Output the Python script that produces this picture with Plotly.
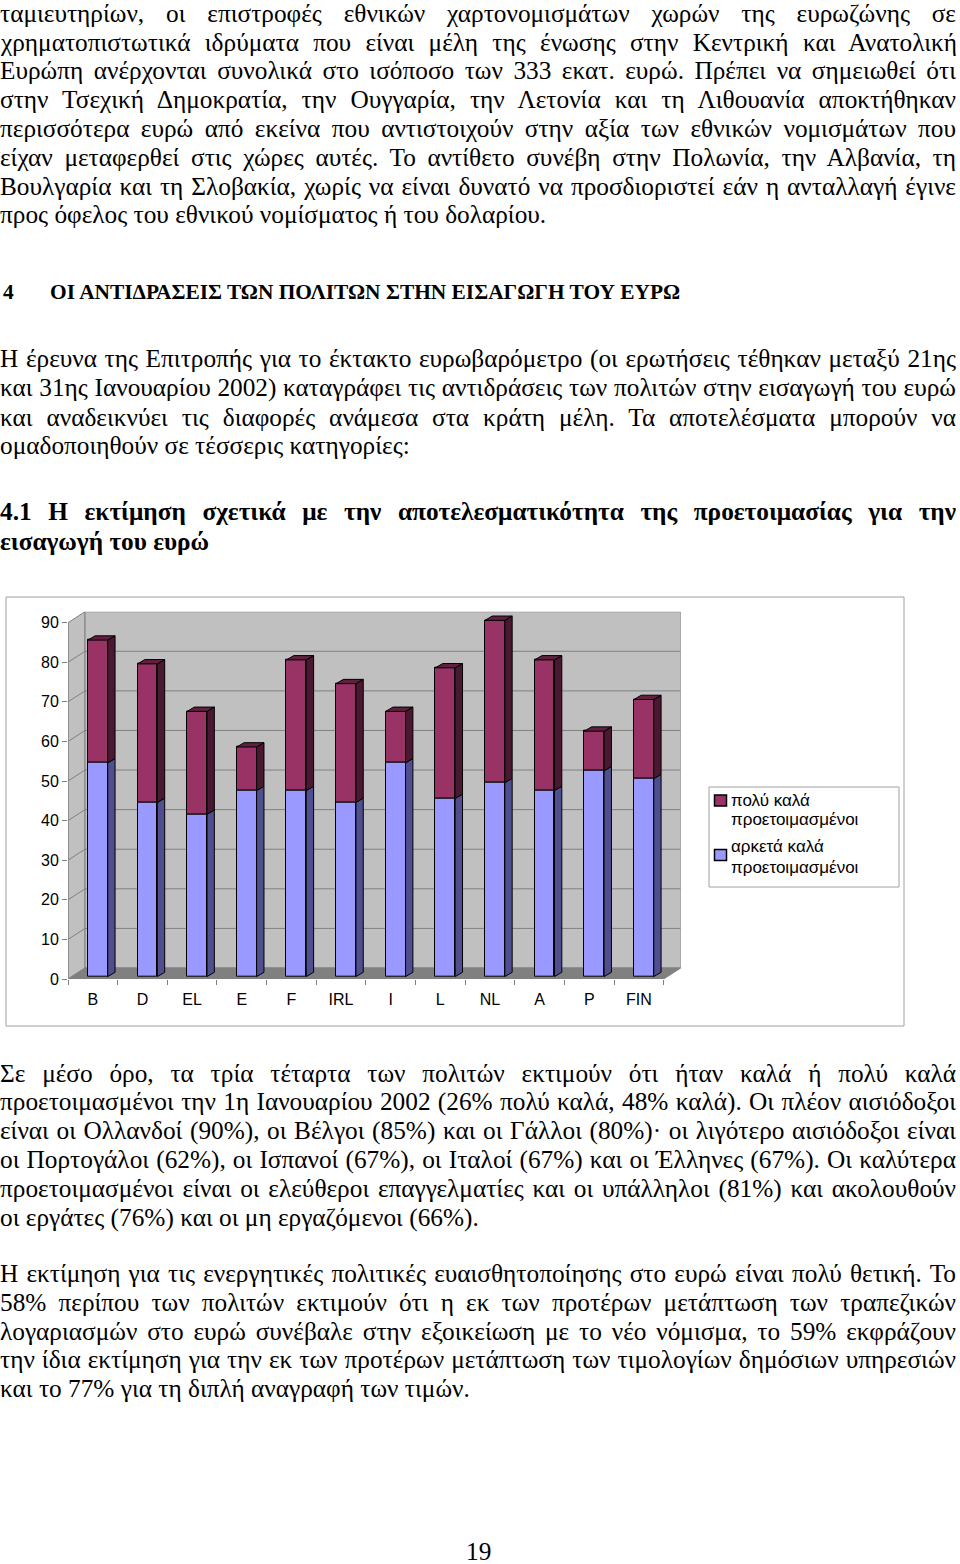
import json

import plotly.graph_objects as go

# ---- chart data (percent of citizens) ----
countries = ["B", "D", "EL", "E", "F", "IRL", "I", "L", "NL", "A", "P", "FIN"]
fairly_well = [54, 44, 41, 47, 47, 44, 54, 45, 49, 47, 52, 50]   # αρκετά καλά προετοιμασμένοι
very_well = [31, 35, 26, 11, 33, 30, 13, 33, 41, 33, 10, 20]     # πολύ καλά προετοιμασμένοι
y_ticks = list(range(0, 100, 10))
series_names = [["πολύ καλά", "προετοιμασμένοι"], ["αρκετά καλά", "προετοιμασμένοι"]]

# ---- page text ----
para1 = [
    "ταμιευτηρίων, οι επιστροφές εθνικών χαρτονομισμάτων χωρών της ευρωζώνης σε",
    "χρηματοπιστωτικά ιδρύματα που είναι μέλη της ένωσης στην Κεντρική και Ανατολική",
    "Ευρώπη ανέρχονται συνολικά στο ισόποσο των 333 εκατ. ευρώ. Πρέπει να σημειωθεί ότι",
    "στην Τσεχική Δημοκρατία, την Ουγγαρία, την Λετονία και τη Λιθουανία αποκτήθηκαν",
    "περισσότερα ευρώ από εκείνα που αντιστοιχούν στην αξία των εθνικών νομισμάτων που",
    "είχαν μεταφερθεί στις χώρες αυτές. Το αντίθετο συνέβη στην Πολωνία, την Αλβανία, τη",
    "Βουλγαρία και τη Σλοβακία, χωρίς να είναι δυνατό να προσδιοριστεί εάν η ανταλλαγή έγινε",
    "προς όφελος του εθνικού νομίσματος ή του δολαρίου.",
]
heading_num = "4"
heading = "ΟΙ ΑΝΤΙΔΡΑΣΕΙΣ ΤΩΝ ΠΟΛΙΤΩΝ ΣΤΗΝ ΕΙΣΑΓΩΓΗ ΤΟΥ ΕΥΡΩ"
para2 = [
    "Η έρευνα της Επιτροπής για το έκτακτο ευρωβαρόμετρο (οι ερωτήσεις τέθηκαν μεταξύ 21ης",
    "και 31ης Ιανουαρίου 2002) καταγράφει τις αντιδράσεις των πολιτών στην εισαγωγή του ευρώ",
    "και αναδεικνύει τις διαφορές ανάμεσα στα κράτη μέλη. Τα αποτελέσματα μπορούν να",
    "ομαδοποιηθούν σε τέσσερις κατηγορίες:",
]
subheading = [
    "4.1 Η εκτίμηση σχετικά με την αποτελεσματικότητα της προετοιμασίας για την",
    "εισαγωγή του ευρώ",
]
para3 = [
    "Σε μέσο όρο, τα τρία τέταρτα των πολιτών εκτιμούν ότι ήταν καλά ή πολύ καλά",
    "προετοιμασμένοι την 1η Ιανουαρίου 2002 (26% πολύ καλά, 48% καλά). Οι πλέον αισιόδοξοι",
    "είναι οι Ολλανδοί (90%), οι Βέλγοι (85%) και οι Γάλλοι (80%)· οι λιγότερο αισιόδοξοι είναι",
    "οι Πορτογάλοι (62%), οι Ισπανοί (67%), οι Ιταλοί (67%) και οι Έλληνες (67%). Οι καλύτερα",
    "προετοιμασμένοι είναι οι ελεύθεροι επαγγελματίες και οι υπάλληλοι (81%) και ακολουθούν",
    "οι εργάτες (76%) και οι μη εργαζόμενοι (66%).",
]
para4 = [
    "Η εκτίμηση για τις ενεργητικές πολιτικές ευαισθητοποίησης στο ευρώ είναι πολύ θετική. Το",
    "58% περίπου των πολιτών εκτιμούν ότι η εκ των προτέρων μετάπτωση των τραπεζικών",
    "λογαριασμών στο ευρώ συνέβαλε στην εξοικείωση με το νέο νόμισμα, το 59% εκφράζουν",
    "την ίδια εκτίμηση για την εκ των προτέρων μετάπτωση των τιμολογίων δημόσιων υπηρεσιών",
    "και το 77% για τη διπλή αναγραφή των τιμών.",
]
page_number = "19"

W, H = 960, 1564
SY = 1564 / 1555  # vertical correction measured against the rendered page
SERIF = "Liberation Serif, Times New Roman, serif"
SANS = "Liberation Sans, Arial, sans-serif"
BODY_SIZE = 25.3

LAVENDER, LAVENDER_SIDE = "#9999FF", "#4F4F8F"
MAROON, MAROON_SIDE, MAROON_TOP = "#993366", "#4A1830", "#62203F"
WALL, FLOOR, GRID = "#C0C0C0", "#808080", "#808080"

# 3-D look (in data units)
WALL_DX, WALL_DY = 0.343, 2.78
BAR_DX, BAR_DY, BAR_W = 0.1, 0.6, 0.40
SIDE_DX, SIDE_DY = 0.148, 1.09


def fy(y_px):
    """Pixel row from the top of the page -> paper y."""
    return 1 - y_px * SY / H


fig = go.Figure()

n = len(countries)
xs = [i + BAR_DX for i in range(n)]
tops_low = [BAR_DY + f for f in fairly_well]
tops_high = [BAR_DY + f + v for f, v in zip(fairly_well, very_well)]

fig.add_trace(go.Bar(
    x=xs, y=very_well, base=tops_low, width=BAR_W, name=" ".join(series_names[0]),
    marker=dict(color=MAROON, line=dict(color="black", width=1)), hoverinfo="skip",
))
fig.add_trace(go.Bar(
    x=xs, y=fairly_well, base=BAR_DY, width=BAR_W, name=" ".join(series_names[1]),
    marker=dict(color=LAVENDER, line=dict(color="black", width=1)), hoverinfo="skip",
))


def side_faces(bottoms, tops):
    px, py = [], []
    for x, b, t in zip(xs, bottoms, tops):
        xr = x + BAR_W / 2
        px += [xr, xr + SIDE_DX, xr + SIDE_DX, xr, xr, None]
        py += [b, b + SIDE_DY, t + SIDE_DY, t, b, None]
    return px, py


def top_faces(tops):
    px, py = [], []
    for x, t in zip(xs, tops):
        xl, xr = x - BAR_W / 2, x + BAR_W / 2
        px += [xl, xl + SIDE_DX, xr + SIDE_DX, xr, xl, None]
        py += [t, t + SIDE_DY, t + SIDE_DY, t, t, None]
    return px, py


for (bx, by), color in [
    (side_faces([BAR_DY] * n, tops_low), LAVENDER_SIDE),
    (side_faces(tops_low, tops_high), MAROON_SIDE),
    (top_faces(tops_high), MAROON_TOP),
]:
    fig.add_trace(go.Scatter(
        x=bx, y=by, mode="lines", fill="toself", fillcolor=color,
        line=dict(color="black", width=1), showlegend=False, hoverinfo="skip",
    ))

# walls, floor and gridlines
x_lo, x_hi = -0.5, n - 0.5
y_max = y_ticks[-1]
shapes = [
    dict(type="path", layer="below", fillcolor=WALL, line=dict(color=GRID, width=1),
         path=f"M {x_lo},0 L {x_lo},{y_max} L {x_lo + WALL_DX},{y_max + WALL_DY} "
              f"L {x_lo + WALL_DX},{WALL_DY} Z"),
    dict(type="rect", layer="below", fillcolor=WALL, line=dict(color=GRID, width=1),
         x0=x_lo + WALL_DX, x1=x_hi + WALL_DX, y0=WALL_DY, y1=y_max + WALL_DY),
    dict(type="path", layer="below", fillcolor=FLOOR, line=dict(color=FLOOR, width=1),
         path=f"M {x_lo},0 L {x_hi},0 L {x_hi + WALL_DX},{WALL_DY} L {x_lo + WALL_DX},{WALL_DY} Z"),
]
for v in y_ticks[1:-1]:
    shapes.append(dict(type="line", layer="below", line=dict(color=GRID, width=1),
                       x0=x_lo + WALL_DX, x1=x_hi + WALL_DX, y0=v + WALL_DY, y1=v + WALL_DY))
    shapes.append(dict(type="line", layer="below", line=dict(color=GRID, width=1),
                       x0=x_lo, x1=x_lo + WALL_DX, y0=v, y1=v + WALL_DY))
shapes.append(dict(type="line", line=dict(color=GRID, width=1),
                   x0=x_lo, x1=x_lo, y0=0, y1=y_max))


def paper_rect(x0, y0, x1, y1, **kw):
    return dict(type="rect", xref="paper", yref="paper",
                x0=x0 / W, x1=x1 / W, y0=fy(y1), y1=fy(y0), **kw)


# chart frame and legend box
shapes.append(paper_rect(6, 597, 904, 1026, line=dict(color="#A0A0A0", width=1)))
shapes.append(paper_rect(709, 787, 899, 887, line=dict(color="#A0A0A0", width=1)))

annotations = []
justify = {}


def add_text(text, x_px, y_px, size, family, bold=False, xanchor="left", height=None):
    annotations.append(dict(
        text=f"<b>{text}</b>" if bold else text, x=x_px / W, y=fy(y_px),
        xref="paper", yref="paper", xanchor=xanchor, yanchor="middle", align="left",
        showarrow=False, borderpad=0, borderwidth=0, height=height,
        font=dict(family=family, size=size, color="black"),
    ))


# legend entries: swatch + two text lines
for (first, second), color, swatch_y, text_y in [
    (series_names[0], MAROON, 800.5, 800),
    (series_names[1], LAVENDER, 855, 847),
]:
    shapes.append(paper_rect(714.5, swatch_y - 5.5, 726.5, swatch_y + 5.5,
                             fillcolor=color, line=dict(color="black", width=1.5)))
    add_text(first, 731, text_y, 17, SANS)
    add_text(second, 731, text_y + 20, 17, SANS)


def add_line(text, x_px, y_px, size=BODY_SIZE, bold=False, just=False):
    if just:
        justify[str(len(annotations))] = 956 - x_px
    add_text(text, x_px, y_px, size, SERIF, bold=bold)


def add_paragraph(lines, y0, step=28.8):
    for k, line in enumerate(lines):
        add_line(line, 0, y0 + k * step, just=k < len(lines) - 1)


add_paragraph(para1, 12.7)
add_line(heading_num, 3, 292, size=21.4, bold=True)
add_line(heading, 50, 292, size=21.4, bold=True)
add_paragraph(para2, 359)
add_line(subheading[0], 0, 511, bold=True, just=True)
add_line(subheading[1], 0, 541, bold=True)
add_paragraph(para3, 1073)
add_paragraph(para4, 1273)
# page number sits on the bottom edge: a tight box keeps it inside the page
add_text(page_number, 478, 1551, BODY_SIZE, SERIF, xanchor="center", height=20)

fig.update_layout(
    width=W, height=H, margin=dict(l=0, r=0, t=0, b=0),
    paper_bgcolor="white", plot_bgcolor="rgba(0,0,0,0)",
    barmode="overlay", bargap=0, showlegend=False,
    shapes=shapes, annotations=annotations,
    xaxis=dict(
        domain=[68 / W, 680.7 / W], range=[x_lo, x_hi + WALL_DX],
        tickmode="array", tickvals=list(range(n)), ticktext=countries,
        ticks="outside", ticklen=6, tickcolor="rgba(0,0,0,0)",
        minor=dict(tickmode="array", tickvals=[k - 0.5 for k in range(n + 1)],
                   ticks="outside", ticklen=5, tickcolor=GRID),
        showgrid=False, zeroline=False, showline=False,
        tickfont=dict(family=SANS, size=16, color="black"),
    ),
    yaxis=dict(
        domain=[fy(979), fy(611.7)], range=[0, y_max + WALL_DY],
        tickmode="array", tickvals=y_ticks, ticks="outside", ticklen=5, tickcolor=GRID,
        showgrid=False, zeroline=False, showline=False,
        tickfont=dict(family=SANS, size=16, color="black"),
    ),
)

# page without body margin or stray line box; justified lines get stretched word spacing
PAGE_JS = """
document.documentElement.style.margin = '0';
document.documentElement.style.overflow = 'hidden';
document.body.style.margin = '0';
document.body.style.overflow = 'hidden';
var gd = document.getElementById('{plot_id}');
gd.parentElement.style.lineHeight = '0';
gd.parentElement.style.fontSize = '0';
gd.parentElement.style.height = gd.style.height;
gd.parentElement.style.overflow = 'hidden';
var box = gd.querySelector('.svg-container');
if (box) box.style.display = 'block';
var widths = __WIDTHS__;
gd.querySelectorAll('g.annotation').forEach(function (g) {
  var i = g.getAttribute('data-index');
  if (!(i in widths)) return;
  g.querySelectorAll('[clip-path]').forEach(function (c) { c.removeAttribute('clip-path'); });
  var t = g.querySelector('text.annotation-text');
  var gaps = (t.textContent.match(/ /g) || []).length;
  if (!gaps) return;
  var extra = (widths[i] - t.getComputedTextLength()) / gaps;
  t.setAttribute('word-spacing', extra);
});
""".replace("__WIDTHS__", json.dumps(justify))

fig.write_html("out.html", post_script=PAGE_JS, config={"displayModeBar": False})
